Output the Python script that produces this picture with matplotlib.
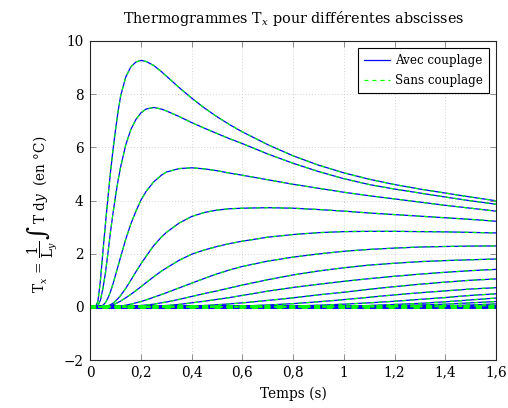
import matplotlib
matplotlib.use("Agg")
import matplotlib.pyplot as plt
from matplotlib.lines import Line2D

plt.rcParams['font.family'] = ['DejaVu Serif']
plt.rcParams['mathtext.fontset'] = 'dejavuserif'

# time (s)
t = [0, 0.02, 0.03, 0.04, 0.05, 0.06, 0.07, 0.08, 0.09, 0.1, 0.11, 0.12,
     0.14, 0.16, 0.18, 0.2, 0.22, 0.25, 0.28, 0.3,
     0.35, 0.4, 0.45, 0.5, 0.55, 0.6,
     0.7, 0.8, 0.9, 1.0, 1.1, 1.2, 1.3, 1.4, 1.5, 1.6]

# thermograms (°C) for the different abscissae
c1 = [0, 0, 0.2, 1.0, 2.1, 3.15, 4.15, 5.1, 5.95, 6.7, 7.38, 7.95,
      8.65, 9.03, 9.21, 9.27, 9.23, 9.08, 8.85, 8.68,
      8.25, 7.85, 7.48, 7.15, 6.85, 6.58,
      6.1, 5.68, 5.33, 5.04, 4.8, 4.6, 4.43, 4.28, 4.13, 3.99]
c2 = [0, 0, 0.05, 0.25, 0.7, 1.3, 2.05, 2.85, 3.55, 4.2, 4.78, 5.28,
      6.1, 6.67, 7.05, 7.3, 7.44, 7.5, 7.44, 7.37,
      7.16, 6.93, 6.72, 6.52, 6.32, 6.14,
      5.75, 5.4, 5.09, 4.82, 4.6, 4.43, 4.28, 4.13, 3.99, 3.86]
c3 = [0, 0, 0, 0.01, 0.06, 0.16, 0.34, 0.58, 0.88, 1.21, 1.55, 1.89,
      2.55, 3.12, 3.6, 4.02, 4.34, 4.7, 4.95, 5.07,
      5.2, 5.23, 5.19, 5.12, 5.03, 4.95,
      4.78, 4.61, 4.46, 4.31, 4.18, 4.06, 3.94, 3.82, 3.71, 3.6]
c4 = [0, 0, 0, 0, 0, 0.01, 0.04, 0.08, 0.14, 0.22, 0.32, 0.43,
      0.7, 1.0, 1.32, 1.62, 1.9, 2.3, 2.62, 2.8,
      3.15, 3.4, 3.55, 3.64, 3.69, 3.71,
      3.73, 3.71, 3.66, 3.6, 3.53, 3.47, 3.41, 3.35, 3.29, 3.22]
c5 = [0, 0, 0, 0, 0, 0.01, 0.02, 0.04, 0.08, 0.12, 0.17, 0.22,
      0.34, 0.47, 0.61, 0.76, 0.91, 1.13, 1.34, 1.46,
      1.75, 1.98, 2.14, 2.27, 2.38, 2.47,
      2.62, 2.72, 2.79, 2.83, 2.84, 2.84, 2.83, 2.82, 2.8, 2.78]
c6 = [0, 0, 0, 0, 0, 0, 0, 0, 0, 0.01, 0.02, 0.03,
      0.06, 0.1, 0.15, 0.2, 0.26, 0.36, 0.46, 0.53,
      0.71, 0.89, 1.07, 1.24, 1.39, 1.52,
      1.72, 1.87, 1.99, 2.09, 2.16, 2.21, 2.25, 2.27, 2.285, 2.29]
c7 = [0, 0, 0, 0, 0, 0, 0, 0, 0, 0, 0, 0,
      0.01, 0.02, 0.03, 0.05, 0.07, 0.1, 0.15, 0.18,
      0.28, 0.39, 0.5, 0.6, 0.71, 0.82,
      1.02, 1.2, 1.35, 1.47, 1.57, 1.64, 1.7, 1.74, 1.77, 1.8]
c8 = [0, 0, 0, 0, 0, 0, 0, 0, 0, 0, 0, 0,
      0, 0, 0, 0, 0.01, 0.02, 0.04, 0.05,
      0.09, 0.15, 0.21, 0.28, 0.35, 0.43,
      0.59, 0.73, 0.85, 0.96, 1.06, 1.15, 1.23, 1.3, 1.36, 1.41]
c9 = [0, 0, 0, 0, 0, 0, 0, 0, 0, 0, 0, 0,
      0, 0, 0, 0, 0, 0, 0, 0,
      0.01, 0.03, 0.05, 0.08, 0.11, 0.15,
      0.24, 0.34, 0.45, 0.55, 0.66, 0.76, 0.85, 0.93, 1.0, 1.05]
c10 = [0, 0, 0, 0, 0, 0, 0, 0, 0, 0, 0, 0,
       0, 0, 0, 0, 0, 0, 0, 0,
       0, 0, 0, 0.01, 0.02, 0.03,
       0.07, 0.12, 0.19, 0.27, 0.36, 0.45, 0.53, 0.6, 0.67, 0.72]
c11 = [0, 0, 0, 0, 0, 0, 0, 0, 0, 0, 0, 0,
       0, 0, 0, 0, 0, 0, 0, 0,
       0, 0, 0, 0, 0, 0,
       0.01, 0.03, 0.06, 0.1, 0.15, 0.21, 0.28, 0.35, 0.43, 0.49]
c12 = [0, 0, 0, 0, 0, 0, 0, 0, 0, 0, 0, 0,
       0, 0, 0, 0, 0, 0, 0, 0,
       0, 0, 0, 0, 0, 0,
       0, 0, 0.01, 0.03, 0.05, 0.09, 0.13, 0.19, 0.26, 0.33]
c13 = [0, 0, 0, 0, 0, 0, 0, 0, 0, 0, 0, 0,
       0, 0, 0, 0, 0, 0, 0, 0,
       0, 0, 0, 0, 0, 0,
       0, 0, 0, 0.01, 0.02, 0.04, 0.07, 0.1, 0.15, 0.2]
c14 = [0, 0, 0, 0, 0, 0, 0, 0, 0, 0, 0, 0,
       0, 0, 0, 0, 0, 0, 0, 0,
       0, 0, 0, 0, 0, 0,
       0, 0, 0, 0, 0, 0.01, 0.02, 0.04, 0.07, 0.11]
c15 = [0, 0, 0, 0, 0, 0, 0, 0, 0, 0, 0, 0,
       0, 0, 0, 0, 0, 0, 0, 0,
       0, 0, 0, 0, 0, 0,
       0, 0, 0, 0, 0, 0, 0, 0.01, 0.02, 0.05]
c_far = [0, 0, 0, 0, 0, 0, 0, 0, 0, 0, 0, 0,
         0, 0, 0, 0, 0, 0, 0, 0,
         0, 0, 0, 0, 0, 0,
         0, 0, 0, 0, 0, 0, 0, 0, 0, 0]

avec_couplage = [c1, c2, c3, c4, c5, c6, c7, c8, c9, c10, c11, c12, c13, c14, c15]
sans_couplage = [c1, c2, c3, c4, c5, c6, c7, c8, c9, c10, c11, c12, c13, c14, c15]

xticks = [0, 0.2, 0.4, 0.6, 0.8, 1.0, 1.2, 1.4, 1.6]
xticklabels = ['0', '0,2', '0,4', '0,6', '0,8', '1', '1,2', '1,4', '1,6']
yticks = [-2, 0, 2, 4, 6, 8, 10]
yticklabels = ['\u22122', '0', '2', '4', '6', '8', '10']

BLUE = '#0000ff'
GREEN = '#00ff00'
FS = 9.8

fig = plt.figure(figsize=(5.08, 4.08), dpi=100)
W, H = 508, 408
ax = fig.add_axes([90.3 / W, 1 - 360 / H, (496 - 90.3) / W, (360 - 41) / H])

for c in avec_couplage:
    ax.plot(t, c, color=BLUE, lw=0.9)
ax.plot(t, c_far, color=BLUE, lw=2.8)
for c in sans_couplage:
    ax.plot(t, c, color=GREEN, lw=0.9, ls=(0, (3.2, 3.2)))
ax.plot(t, c_far, color=GREEN, lw=2.8, ls=(0, (1.6, 1.6)))

ax.set_xlim(0, 1.6)
ax.set_ylim(-2, 10)
ax.set_xticks(xticks)
ax.set_xticklabels(xticklabels)
ax.set_yticks(yticks)
ax.set_yticklabels(yticklabels)
ax.tick_params(direction='in', top=True, right=True, length=4, width=0.7,
               color='0.55', labelsize=FS)
ax.tick_params(axis='x', pad=4)
ax.tick_params(axis='y', pad=5)
ax.grid(True, ls=(0, (1, 2.5)), color='0.78', lw=0.6)
for s in ax.spines.values():
    s.set_linewidth(0.8)
    s.set_color('0.15')

ax.set_title(r'Thermogrammes T$_x$ pour différentes abscisses', fontsize=10.4, pad=13)
ax.set_xlabel('Temps (s)', fontsize=FS, labelpad=5)

handles = [Line2D([], [], color=BLUE, lw=0.9),
           Line2D([], [], color=GREEN, lw=0.9, ls=(0, (3.2, 3.2)))]
leg = ax.legend(handles, ['Avec couplage', 'Sans couplage'], loc='upper right',
                fancybox=False, framealpha=1, edgecolor='black', fontsize=8.6,
                handlelength=2.2, borderpad=0.5, labelspacing=0.6,
                handletextpad=0.4, borderaxespad=0.6)
leg.get_frame().set_linewidth(0.8)

# y label built from pieces so the integral sign can be large
fig.canvas.draw()
renderer = fig.canvas.get_renderer()
ylabel_parts = [(r'T$_x$ = $\dfrac{1}{\mathrm{L}_y}$', FS),
                ('\u222b', 18),
                (r'T d$y$  (en °C)', FS)]
xb = 45.0 / W
yb = 1 - 293.0 / H
for txt, size in ylabel_parts:
    tt = fig.text(xb, yb, txt, rotation=90, rotation_mode='anchor',
                  ha='left', va='baseline', fontsize=size)
    bb = tt.get_window_extent(renderer=renderer)
    yb = (bb.y1 + 2) / H

fig.savefig('out.png', dpi=100)
